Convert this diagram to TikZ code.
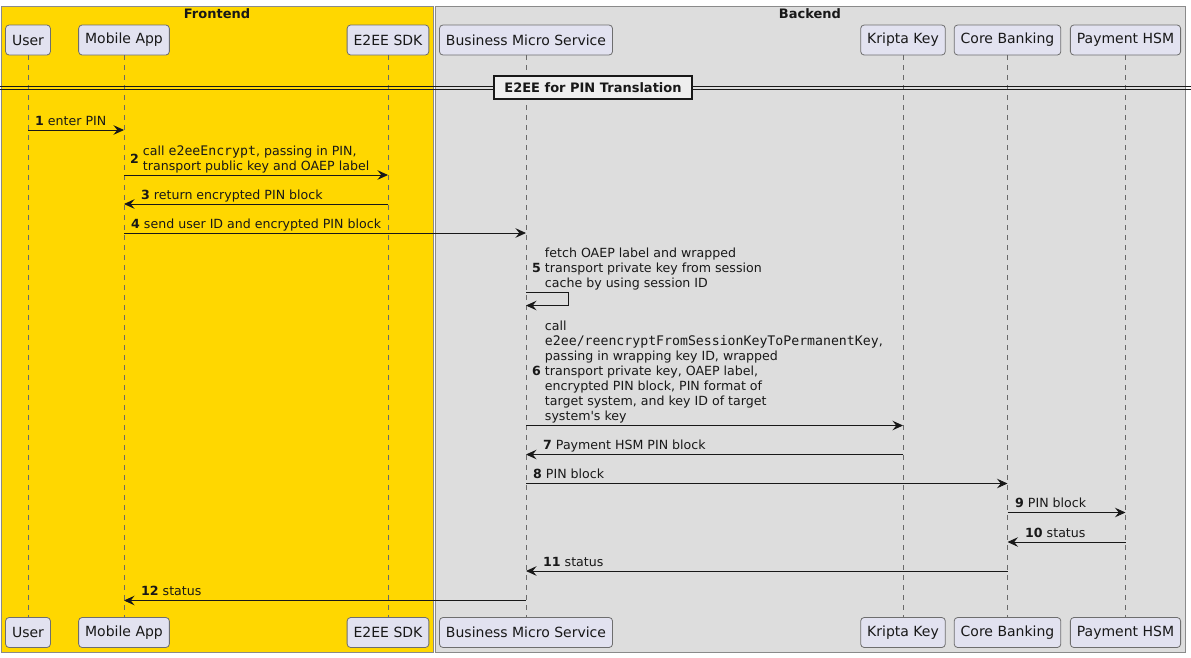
\documentclass[tikz,border=0pt]{standalone}
\usepackage{fontspec}
\setmainfont{DejaVu Sans}
\newfontfamily\codefont{DejaVu Sans Mono}
\usetikzlibrary{arrows.meta}
\definecolor{frontfill}{HTML}{FFD700}
\definecolor{backfill}{HTML}{DDDDDD}
\definecolor{boxline}{HTML}{8A8A8A}
\definecolor{partfill}{HTML}{E2E2F0}
\definecolor{partline}{HTML}{6E6E6E}
\definecolor{lifeline}{HTML}{6A6A6A}
\definecolor{dividerfill}{HTML}{EEEEEE}
\definecolor{ink}{HTML}{181818}
% bold step number, vertically centred on a left-aligned block of lines
\newcommand{\msgtext}[2]{\textbf{#1}\hspace{4pt}\begin{tabular}[c]{@{}l@{}}#2\end{tabular}}
\newcommand{\code}[1]{{\codefont\fontsize{13.2}{15}\selectfont #1}}

\begin{document}
\begin{tikzpicture}[x=1pt,y=-1pt,
  txt/.style={font=\fontsize{12.6}{15}\selectfont, text=ink},
  part/.style={font=\fontsize{14}{16}\selectfont, text=ink, draw=partline,
    fill=partfill, rounded corners=3.5pt, minimum height=30pt,
    inner xsep=6.5pt, inner ysep=0pt, line width=0.8pt},
  boxtitle/.style={text=ink, font=\fontsize{13}{15}\selectfont\bfseries, inner sep=0pt},
  life/.style={draw=lifeline, line width=0.7pt, dash pattern=on 5pt off 5pt},
  msg/.style={draw=ink, line width=0.9pt, -{Stealth[length=10.5pt,width=9.5pt,inset=3.8pt]}},
  lbl/.style={txt, anchor=south west, inner sep=0pt},
]
\useasboundingbox (0,0) rectangle (1191,657);

% groups
\draw[fill=frontfill, draw=boxline, line width=0.8pt] (1,6) rectangle (433,652);
\draw[fill=backfill, draw=boxline, line width=0.8pt] (435.5,6) rectangle (1185.5,652);
\node[boxtitle] (fronttitle) at (217,14) {Frontend};
\node[boxtitle] (backtitle) at (810,14) {Backend};

% participants, top and bottom
\foreach \id/\x/\name in {u/28/User, m/124/Mobile App, s/388/E2EE SDK,
    b/526/Business Micro Service, k/903/Kripta Key, c/1007.5/Core Banking,
    h/1125.5/Payment HSM}{
  \node[part] (\id T) at (\x,40) {\name};
  \node[part] (\id B) at (\x,632.5) {\name};
  \draw[life] (\id T.south) -- (\id B.north);
}

% section divider
\draw[ink, line width=0.9pt] (0,86.5) -- (1191,86.5);
\draw[ink, line width=0.9pt] (0,89.5) -- (1191,89.5);
\node[draw=ink, fill=dividerfill, line width=1.6pt, minimum width=198pt,
  minimum height=23pt, inner sep=0pt, text=ink, font=\fontsize{13}{15}\selectfont\bfseries]
  (divider) at (593,87.5) {E2EE for PIN Translation};

% messages
\draw[msg] (uT |- 0,130) -- (mT |- 0,130);
\node[lbl] (l1) at (35,130.5) {\msgtext{1}{enter PIN}};

\draw[msg] (mT |- 0,175) -- (sT |- 0,175);
\node[lbl] (l2) at (130,175.5) {\msgtext{2}{call \code{e2eeEncrypt}, passing in PIN,\\transport public key and OAEP label}};

\draw[msg] (sT |- 0,204) -- (mT |- 0,204);
\node[lbl] (l3) at (141,204.5) {\msgtext{3}{return encrypted PIN block}};

\draw[msg] (mT |- 0,233) -- (bT |- 0,233);
\node[lbl] (l4) at (131,233.5) {\msgtext{4}{send user ID and encrypted PIN block}};

\coordinate (loopa) at (568,292);
\coordinate (loopb) at (568,305.5);
\draw[msg] (bT |- loopa) -- (loopa) -- (loopb) -- (bT |- loopb);
\node[lbl] (l5) at (532,292.5) {\msgtext{5}{fetch OAEP label and wrapped\\transport private key from session\\cache by using session ID}};

\draw[msg] (bT |- 0,425.5) -- (kT |- 0,425.5);
\node[lbl] (l6) at (532,425.5) {\msgtext{6}{call\\\code{e2ee/reencryptFromSessionKeyToPermanentKey},\\passing in wrapping key ID, wrapped\\transport private key, OAEP label,\\encrypted PIN block, PIN format of\\target system, and key ID of target\\system\textquotesingle s key}};

\draw[msg] (kT |- 0,454.5) -- (bT |- 0,454.5);
\node[lbl] (l7) at (543,454.5) {\msgtext{7}{Payment HSM PIN block}};

\draw[msg] (bT |- 0,483.5) -- (cT |- 0,483.5);
\node[lbl] (l8) at (533,483.5) {\msgtext{8}{PIN block}};

\draw[msg] (cT |- 0,512.5) -- (hT |- 0,512.5);
\node[lbl] (l9) at (1015,512.5) {\msgtext{9}{PIN block}};

\draw[msg] (hT |- 0,542) -- (cT |- 0,542);
\node[lbl] (l10) at (1025,542.5) {\msgtext{10}{status}};

\draw[msg] (cT |- 0,571) -- (bT |- 0,571);
\node[lbl] (l11) at (543,571.5) {\msgtext{11}{status}};

\draw[msg] (bT |- 0,600.5) -- (mT |- 0,600.5);
\node[lbl] (l12) at (141,600.5) {\msgtext{12}{status}};
\end{tikzpicture}
\end{document}
